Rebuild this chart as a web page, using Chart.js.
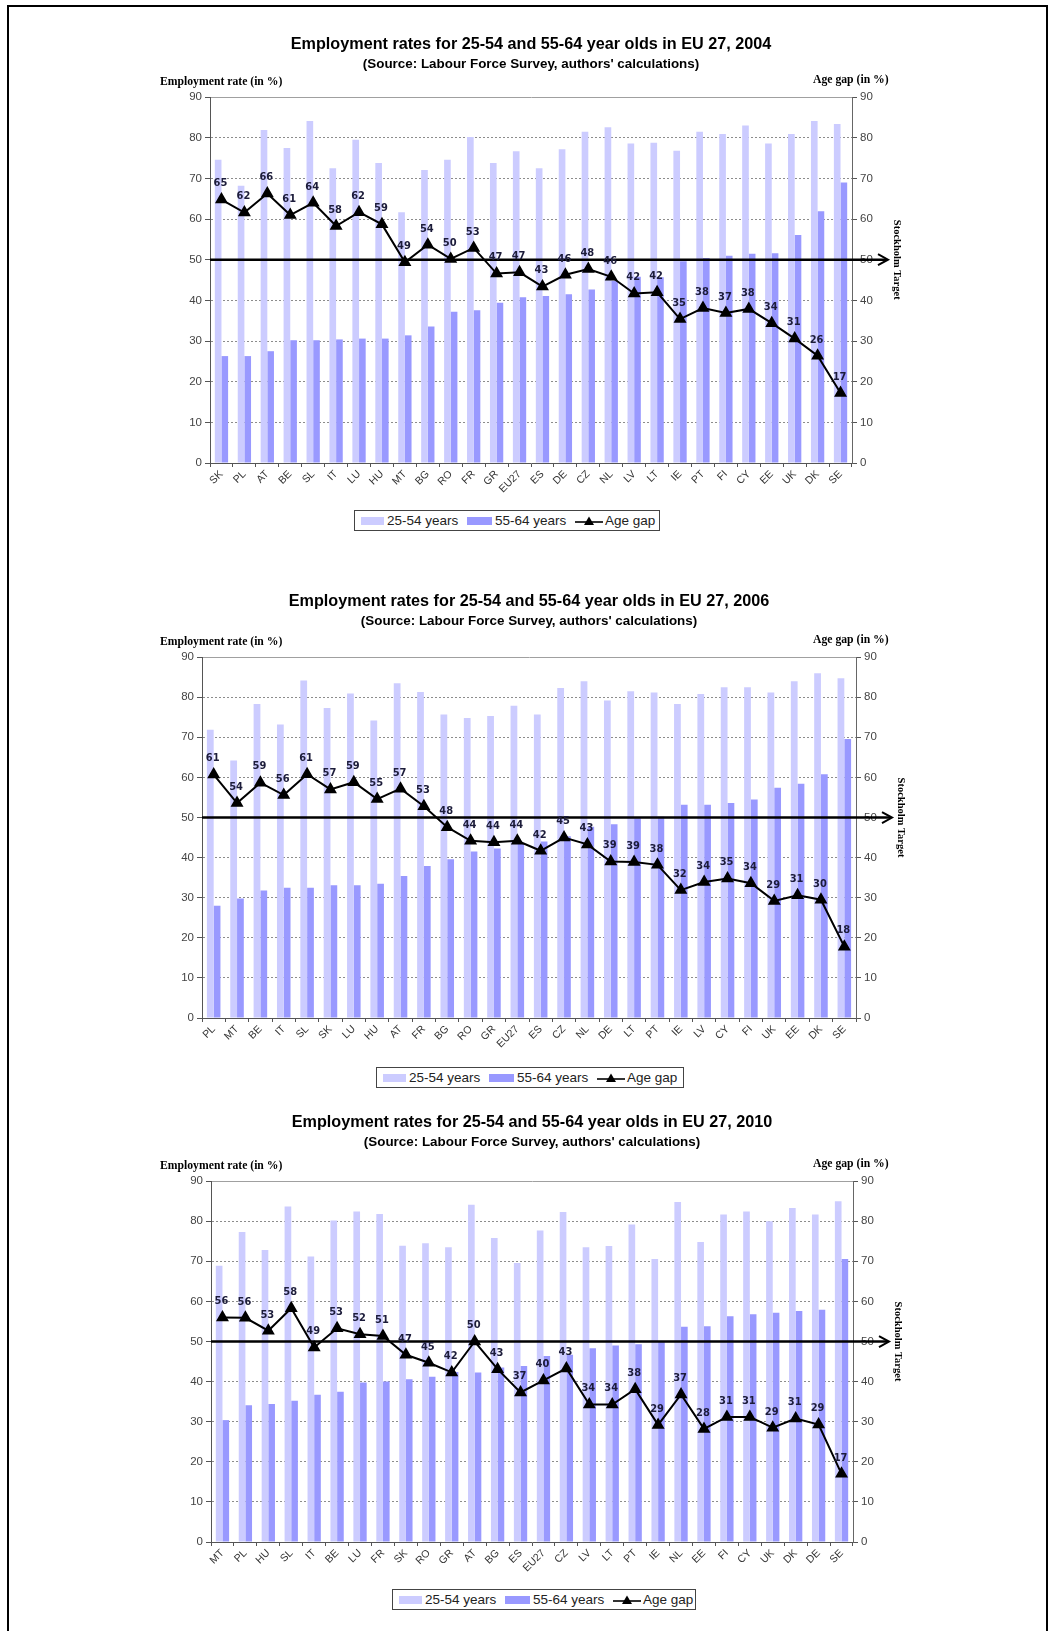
<!DOCTYPE html>
<html>
<head>
<meta charset="utf-8">
<script src="https://cdn.jsdelivr.net/npm/chart.js@4.4.1/dist/chart.umd.min.js"></script>
<style>
  html, body { margin: 0; padding: 0; background: #fff; }
  body { width: 1050px; height: 1631px; position: relative; overflow: hidden; font-family: "Liberation Sans", Arial, sans-serif; }
  .frame { position: absolute; left: 7px; top: 5px; width: 1037px; height: 1700px; border-left: 2px solid #000; border-top: 2px solid #000; border-right: 2px solid #000; }
  .chartbox { position: absolute; left: 0; width: 1050px; }
  .legend { position: absolute; border: 1px solid #444; background: #fff; box-sizing: border-box; height: 21px; }
  .legend .it { position: absolute; top: 0; height: 19px; line-height: 19px; font-size: 13.5px; color: #222; white-space: nowrap; }
  .legend .sw { position: absolute; top: 6px; height: 8px; }
</style>
</head>
<body>
<div class="frame"></div>

<div class="chartbox" style="top:16px;height:487px"><canvas id="c1" width="1050" height="487"></canvas></div>
<div class="chartbox" style="top:573px;height:485px"><canvas id="c2" width="1050" height="485"></canvas></div>
<div class="chartbox" style="top:1094px;height:488px"><canvas id="c3" width="1050" height="488"></canvas></div>

<script>
// ---------- DATA ----------
const seriesNames = ['25-54 years', '55-64 years', 'Age gap'];
const yTicks = [0, 10, 20, 30, 40, 50, 60, 70, 80, 90];
const stockholmTarget = 50;

const years = ['2004', '2006', '2010'];

const cats2004 = ['SK','PL','AT','BE','SL','IT','LU','HU','MT','BG','RO','FR','GR','EU27','ES','DE','CZ','NL','LV','LT','IE','PT','FI','CY','EE','UK','DK','SE'];
const young2004 = [74.6,68.2,81.9,77.5,84.1,72.5,79.5,73.8,61.7,72.1,74.6,80.2,73.8,76.7,72.5,77.2,81.5,82.6,78.6,78.8,76.8,81.5,80.9,83.0,78.6,80.9,84.1,83.4];
const old2004   = [26.3,26.3,27.5,30.2,30.2,30.4,30.6,30.6,31.4,33.6,37.2,37.6,39.4,40.8,41.1,41.5,42.7,44.8,45.8,45.7,49.6,50.4,51.0,51.5,51.6,56.1,61.9,69.0];
const gap2004   = [64.8,61.6,66.3,61.0,64.0,58.3,61.7,58.7,49.4,53.7,50.2,52.9,46.6,46.9,43.4,46.3,47.7,45.8,41.7,42.0,35.4,38.1,36.9,37.9,34.4,30.6,26.4,17.2];

const cats2006 = ['PL','MT','BE','IT','SL','SK','LU','HU','AT','FR','BG','RO','GR','EU27','ES','CZ','NL','DE','LT','PT','IE','LV','CY','FI','UK','EE','DK','SE'];
const young2006 = [71.9,64.2,78.3,73.2,84.2,77.3,80.9,74.2,83.5,81.3,75.7,74.8,75.3,77.9,75.7,82.3,84.0,79.2,81.5,81.2,78.3,80.8,82.5,82.5,81.2,84.0,86.0,84.7];
const old2006   = [28.0,29.8,31.8,32.5,32.5,33.1,33.1,33.5,35.4,37.9,39.6,41.5,42.3,43.5,44.0,45.3,47.7,48.3,49.8,50.2,53.2,53.2,53.6,54.5,57.4,58.4,60.8,69.6];
const gap2006   = [60.7,53.6,58.7,55.6,60.8,57.0,58.8,54.6,57.2,52.8,47.6,44.2,43.8,44.2,41.7,45.0,43.3,39.0,38.9,38.2,31.9,33.9,34.8,33.6,29.2,30.6,29.5,17.8];

const cats2010 = ['MT','PL','HU','SL','IT','BE','LU','FR','SK','RO','GR','AT','BG','ES','EU27','CZ','LV','LT','PT','IE','NL','EE','FI','CY','UK','DK','DE','SE'];
const young2010 = [68.9,77.3,72.8,83.7,71.2,80.2,82.4,81.8,73.9,74.5,73.5,84.1,75.8,69.6,77.7,82.3,73.5,73.8,79.2,70.6,84.8,74.8,81.7,82.4,80.0,83.3,81.7,85.0];
const old2010   = [30.4,34.1,34.4,35.2,36.7,37.5,39.8,40.0,40.6,41.2,42.4,42.3,43.5,43.9,46.4,46.7,48.3,49.0,49.3,50.1,53.7,53.8,56.3,56.8,57.2,57.6,57.9,70.6];
const gap2010   = [56.0,55.9,52.7,58.3,48.5,53.3,51.8,51.4,46.7,44.7,42.3,50.0,43.1,37.3,40.3,43.3,34.3,34.3,38.1,29.2,36.8,28.2,31.2,31.2,28.5,30.8,29.3,17.0];

// ---------- STYLE ----------
const LIGHT = '#ccccff';
const DARK = '#9999ff';
const SANS = '"Liberation Sans", Arial, sans-serif';
const SERIF = '"Liberation Serif", "Times New Roman", serif';
const NARROW = '"Liberation Sans Narrow", "DejaVu Sans Condensed", sans-serif';

const decor = {
  id: 'decor',
  afterDatasetsDraw(chart, args, o) {
    const {ctx, chartArea: a, scales} = chart;
    const yT = scales.y.getPixelForValue(o.target);
    ctx.save();
    ctx.strokeStyle = '#000';
    ctx.lineWidth = 2.5;
    ctx.beginPath(); ctx.moveTo(a.left, yT); ctx.lineTo(a.right + 35, yT); ctx.stroke();
    ctx.lineWidth = 2;
    ctx.beginPath(); ctx.moveTo(a.right + 26, yT - 5.5); ctx.lineTo(a.right + 36, yT); ctx.lineTo(a.right + 26, yT + 5.5); ctx.stroke();
    ctx.restore();

    ctx.save();
    ctx.translate(a.right + 45, yT);
    ctx.rotate(Math.PI / 2);
    ctx.font = 'bold 10.5px ' + SERIF;
    ctx.fillStyle = '#000';
    ctx.textAlign = 'center';
    ctx.textBaseline = 'middle';
    ctx.fillText('Stockholm Target', 0, 0);
    ctx.restore();

    // value labels on the age-gap line
    const meta = chart.getDatasetMeta(0);
    const vals = chart.data.datasets[0].data;
    ctx.save();
    ctx.font = 'bold 11px ' + NARROW;
    ctx.fillStyle = '#1c1c3a';
    ctx.textAlign = 'center';
    ctx.textBaseline = 'middle';
    meta.data.forEach((p, i) => {
      ctx.fillText(String(Math.round(vals[i])), p.x - 1, p.y - 16);
    });
    ctx.restore();

    // axis titles
    ctx.save();
    ctx.font = 'bold 11.7px ' + SERIF;
    ctx.fillStyle = '#000';
    ctx.textBaseline = 'middle';
    ctx.textAlign = 'left';
    ctx.fillText('Employment rate (in %)', 160, a.top - 15.5);
    ctx.fillText('Age gap (in %)', 813, a.top - 17);
    ctx.restore();
  }
};

function makeChart(id, year, cats, young, old, gap, pad) {
  const ctx = document.getElementById(id);
  return new Chart(ctx, {
    type: 'bar',
    data: {
      labels: cats,
      datasets: [
        { type: 'line', label: seriesNames[2], data: gap, yAxisID: 'y2', order: 0,
          borderColor: '#000', borderWidth: 2, backgroundColor: '#000',
          pointStyle: 'triangle', pointRadius: 5.5, pointBackgroundColor: '#000', pointBorderColor: '#000',
          tension: 0, fill: false },
        { label: seriesNames[0], data: young, backgroundColor: LIGHT, yAxisID: 'y', order: 1,
          barPercentage: 1, categoryPercentage: 0.58 },
        { label: seriesNames[1], data: old, backgroundColor: DARK, yAxisID: 'y', order: 1,
          barPercentage: 1, categoryPercentage: 0.58 }
      ]
    },
    options: {
      responsive: false,
      animation: false,
      devicePixelRatio: 1,
      layout: { padding: { left: pad.left, right: pad.right, top: 19, bottom: 0 } },
      plugins: {
        legend: { display: false },
        tooltip: { enabled: false },
        title: { display: true, text: 'Employment rates for 25-54 and 55-64 year olds in EU 27, ' + year,
          font: { family: SANS, size: 16.2, weight: 'bold', lineHeight: 1.2 }, color: '#000',
          padding: { top: 0, bottom: 2 } },
        subtitle: { display: true, text: "(Source: Labour Force Survey, authors' calculations)",
          font: { family: SANS, size: 13.4, weight: 'bold', lineHeight: 1.2 }, color: '#000',
          padding: { top: 0, bottom: pad.sub } },
        decor: { target: stockholmTarget }
      },
      scales: {
        x: {
          offset: true,
          afterFit: s => { s.height = 40; },
          grid: { display: true, drawOnChartArea: false, drawTicks: true, tickLength: 4, color: '#555' },
          border: { display: true, color: '#555', width: 1 },
          ticks: { autoSkip: false, maxRotation: 45, minRotation: 45, padding: 1,
            font: { family: SANS, size: 10.5 }, color: '#333' }
        },
        y: {
          position: 'left', min: 0, max: 90,
          afterFit: s => { s.width = 34; },
          afterBuildTicks: s => { s.ticks = yTicks.map(v => ({ value: v })); },
          grid: {
            color: c => (c.tick && c.tick.value === 0) ? 'rgba(0,0,0,0)' : (c.tick && c.tick.value === 90 ? '#a0a0a0' : '#8c8c8c'),
            tickColor: '#555', tickLength: 5, lineWidth: 1
          },
          border: { display: true, color: '#555', width: 1,
            dash: c => (c.tick && c.tick.value !== 90) ? [2, 2] : [] },
          ticks: { font: { family: SANS, size: 11.5 }, color: '#444', padding: 3 }
        },
        y2: {
          position: 'right', min: 0, max: 90,
          afterFit: s => { s.width = 34; },
          afterBuildTicks: s => { s.ticks = yTicks.map(v => ({ value: v })); },
          grid: { drawOnChartArea: false, tickColor: '#555', tickLength: 5 },
          border: { display: true, color: '#666', width: 1 },
          ticks: { font: { family: SANS, size: 11.5 }, color: '#444', padding: 3 }
        }
      }
    },
    plugins: [decor]
  });
}

makeChart('c1', years[0], cats2004, young2004, old2004, gap2004, { left: 176, right: 164, sub: 24.6 });
makeChart('c2', years[1], cats2006, young2006, old2006, gap2006, { left: 168, right: 160, sub: 27.6 });
makeChart('c3', years[2], cats2010, young2010, old2010, gap2010, { left: 177, right: 163, sub: 30.6 });

// ---------- HTML legends ----------
function legend(left, top, width) {
  const d = document.createElement('div');
  d.className = 'legend';
  d.style.left = left + 'px'; d.style.top = top + 'px'; d.style.width = width + 'px';
  d.innerHTML =
    '<div class="sw" style="left:6px;width:23px;background:' + LIGHT + '"></div>' +
    '<div class="it" style="left:32px">' + seriesNames[0] + '</div>' +
    '<div class="sw" style="left:112px;width:25px;background:' + DARK + '"></div>' +
    '<div class="it" style="left:140px">' + seriesNames[1] + '</div>' +
    '<svg style="position:absolute;left:220px;top:3px" width="28" height="14"><line x1="0" y1="8" x2="28" y2="8" stroke="#000" stroke-width="1.6"/><polygon points="14,2.5 19,11 9,11" fill="#000"/></svg>' +
    '<div class="it" style="left:250px">' + seriesNames[2] + '</div>';
  document.body.appendChild(d);
}
legend(354, 510, 306);
legend(376, 1067, 308);
legend(392, 1589, 304);
</script>
</body>
</html>
